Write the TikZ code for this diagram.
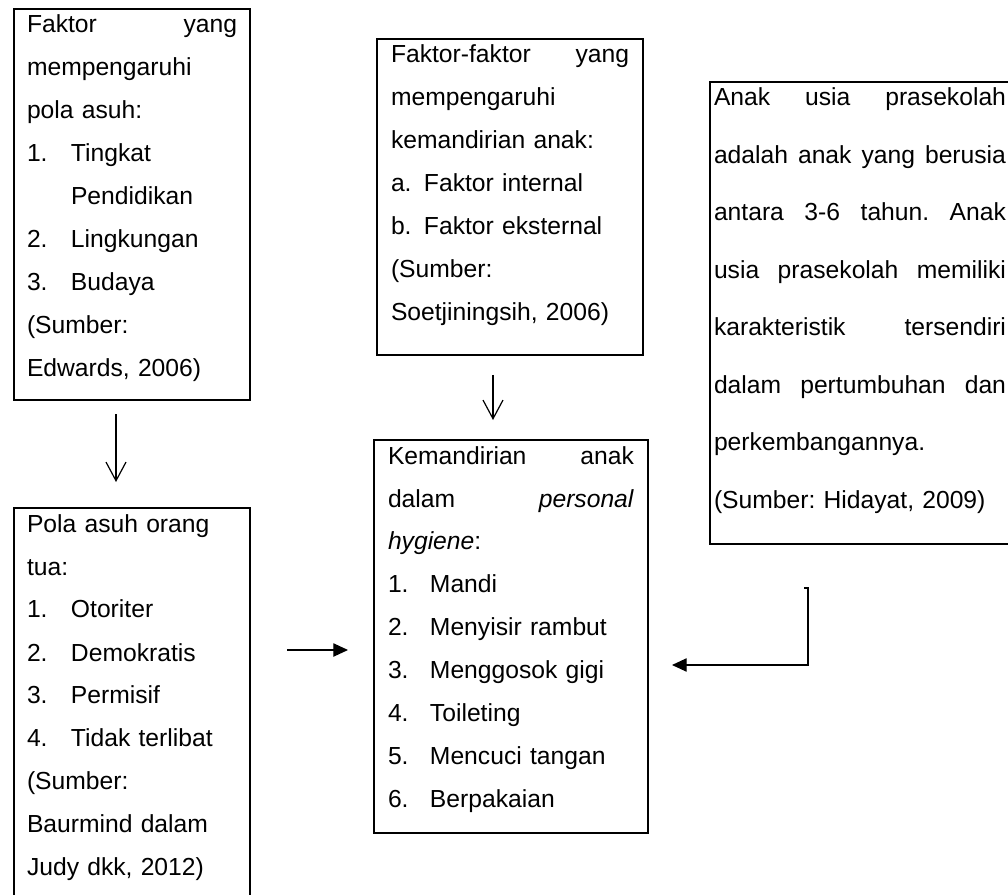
\documentclass[tikz,border=0pt]{standalone}
\usepackage{fontspec}
\setmainfont{Liberation Sans}
\usepackage{xcolor}
\usepackage{tikz}
\usetikzlibrary{arrows.meta}
\frenchspacing

\newcommand{\nitem}[2][33pt]{\makebox[#1][l]{#2}}
\newcommand{\firstln}{\rule{0pt}{18pt}}
\newcommand{\lastln}[1]{\rule[-#1]{0pt}{#1}}

\begin{document}
\begin{tikzpicture}[x=0.75pt, y=-0.75pt,
  boxnode/.style={rectangle, draw=black, line width=1.5pt, anchor=north west, inner ysep=0pt, inner xsep=10.5pt, align=left, font=\fontsize{18.5}{32.25}\selectfont},
  opentip/.style={-{Straight Barb[length=14pt, width=15pt]}, line width=0.9pt},
  filltip/.style={-{Triangle[length=11pt, width=10pt]}, line width=0.9pt}]
\useasboundingbox (0,0) rectangle (1008,895);

\node (faktorpola) [boxnode, inner xsep=9.75pt, text width=157.5pt] at (13,8) {\firstln Faktor\hfill yang\\ mempengaruhi\\ pola asuh:\\ \nitem{1.}Tingkat\\ \hspace*{33pt}Pendidikan\\ \nitem{2.}Lingkungan\\ \nitem{3.}Budaya\\ (Sumber:\\ Edwards, 2006)\lastln{17.25pt}};

\node (faktormandiri) [boxnode, text width=178.5pt] at (376,38) {\firstln Faktor-faktor\hfill yang\\ mempengaruhi\\ kemandirian anak:\\ \nitem[24.75pt]{a.}Faktor internal\\ \nitem[24.75pt]{b.}Faktor eksternal\\ (Sumber:\\ Soetjiningsih, 2006)\lastln{25.5pt}};

\node (prasekolah) [boxnode, inner xsep=3pt, text width=219pt, font=\fontsize{18.5}{43.1}\selectfont] at (709,81) {\firstln Anak\hfill usia\hfill prasekolah\\ adalah\hfill anak\hfill yang\hfill berusia\\ antara\hfill 3-6\hfill tahun.\hfill Anak\\ usia\hfill prasekolah\hfill memiliki\\ karakteristik\hfill tersendiri\\ dalam\hfill pertumbuhan\hfill dan\\ perkembangannya.\\ (Sumber: Hidayat, 2009)\lastln{26.6pt}};

\node (polaasuh) [boxnode, inner xsep=9.75pt, text width=157.5pt] at (13,507) {\firstln Pola asuh orang\\ tua:\\ \nitem{1.}Otoriter\\ \nitem{2.}Demokratis\\ \nitem{3.}Permisif\\ \nitem{4.}Tidak terlibat\\ (Sumber:\\ Baurmind dalam\\ Judy dkk, 2012)\lastln{17.25pt}};

\node (kemandirian) [boxnode, text width=184.5pt] at (373,439) {\firstln Kemandirian\hfill anak\\ dalam\hfill \textit{personal}\\ \textit{hygiene}:\\ \nitem[31.5pt]{1.}Mandi\\ \nitem[31.5pt]{2.}Menyisir rambut\\ \nitem[31.5pt]{3.}Menggosok gigi\\ \nitem[31.5pt]{4.}Toileting\\ \nitem[31.5pt]{5.}Mencuci tangan\\ \nitem[31.5pt]{6.}Berpakaian\lastln{18.75pt}};

\coordinate (xa) at (116,0);
\coordinate (xb) at (493,0);
\coordinate (yc) at (0,650);
\coordinate (yd) at (0,665);
\coordinate (elb) at (808,588);

\draw[opentip, shorten <=9.75pt, shorten >=18.75pt] (faktorpola.south -| xa) -- (polaasuh.north -| xa);
\draw[opentip, shorten <=14.25pt, shorten >=14.25pt] (faktormandiri.south -| xb) -- (kemandirian.north -| xb);
\draw[filltip, shorten <=27pt, shorten >=18.75pt] (polaasuh.east |- yc) -- (kemandirian.west |- yc);
\draw[filltip, shorten >=17.25pt] ([xshift=-3pt]elb) -- (elb) |- (kemandirian.east |- yd);

\end{tikzpicture}
\end{document}
